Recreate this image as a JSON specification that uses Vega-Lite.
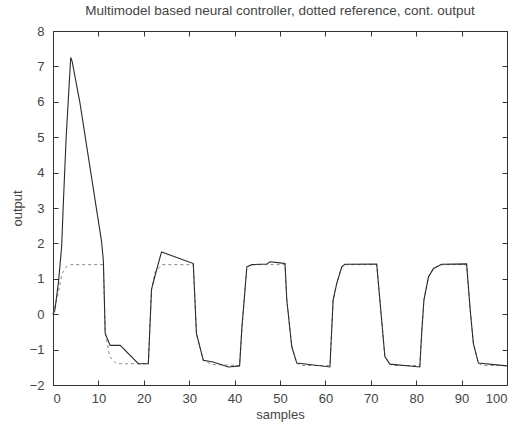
{
  "$schema": "https://vega.github.io/schema/vega-lite/v6.json",
  "width": 454,
  "height": 354,
  "autosize": {"type": "none"},
  "padding": {"left": 53, "top": 31, "right": 12, "bottom": 44},
  "background": "white",
  "title": {
    "text": "Multimodel based neural controller, dotted reference, cont. output",
    "font": "Liberation Sans",
    "fontSize": 13.5,
    "fontWeight": "normal",
    "color": "#444",
    "anchor": "middle",
    "offset": 8
  },
  "datasets": {
    "output": [
      {"k": 0, "y": 0.0}, {"k": 0.4, "y": 0.1}, {"k": 1.2, "y": 0.9}, {"k": 1.9, "y": 1.9},
      {"k": 2.3, "y": 3.2}, {"k": 2.9, "y": 5.0}, {"k": 3.9, "y": 7.25}, {"k": 4.2, "y": 7.15},
      {"k": 5.9, "y": 6.0}, {"k": 10.7, "y": 2.05}, {"k": 11.1, "y": 1.5}, {"k": 11.5, "y": -0.55},
      {"k": 12.6, "y": -0.88}, {"k": 14.8, "y": -0.88}, {"k": 18.8, "y": -1.4}, {"k": 21, "y": -1.4},
      {"k": 21.7, "y": 0.7}, {"k": 22.5, "y": 1.1}, {"k": 23.9, "y": 1.76}, {"k": 30.9, "y": 1.43},
      {"k": 31.6, "y": -0.55}, {"k": 33.1, "y": -1.3}, {"k": 35.3, "y": -1.35}, {"k": 38.6, "y": -1.49},
      {"k": 41.1, "y": -1.46}, {"k": 41.6, "y": -0.4}, {"k": 42.7, "y": 1.34}, {"k": 43.8, "y": 1.4},
      {"k": 47.1, "y": 1.42}, {"k": 47.8, "y": 1.48}, {"k": 50, "y": 1.45}, {"k": 51.1, "y": 1.43},
      {"k": 51.5, "y": 0.4}, {"k": 52.6, "y": -0.92}, {"k": 53.7, "y": -1.38}, {"k": 61, "y": -1.49},
      {"k": 61.7, "y": 0.4}, {"k": 62.5, "y": 0.87}, {"k": 63.6, "y": 1.34}, {"k": 64.3, "y": 1.41},
      {"k": 71.3, "y": 1.42}, {"k": 72, "y": 0.4}, {"k": 73.1, "y": -1.2}, {"k": 74.2, "y": -1.41},
      {"k": 80.8, "y": -1.49}, {"k": 81.2, "y": -0.55}, {"k": 81.7, "y": 0.4}, {"k": 82.7, "y": 1.05},
      {"k": 83.8, "y": 1.29}, {"k": 85.6, "y": 1.41}, {"k": 91.1, "y": 1.42}, {"k": 91.9, "y": 0.11},
      {"k": 92.6, "y": -0.83}, {"k": 93.7, "y": -1.38}, {"k": 100, "y": -1.46}
    ],
    "reference": [
      {"k": 0, "r": 0}, {"k": 1, "r": 0.5}, {"k": 2, "r": 1.15}, {"k": 3, "r": 1.35}, {"k": 4, "r": 1.4},
      {"k": 11.1, "r": 1.4}, {"k": 11.5, "r": -0.5}, {"k": 12.5, "r": -1.2}, {"k": 14, "r": -1.4},
      {"k": 21, "r": -1.4}, {"k": 21.7, "r": 0.7}, {"k": 22.5, "r": 1.2}, {"k": 24, "r": 1.4},
      {"k": 30.9, "r": 1.4}, {"k": 31.6, "r": -0.55}, {"k": 33.1, "r": -1.3}, {"k": 35, "r": -1.42},
      {"k": 41.1, "r": -1.45}, {"k": 41.6, "r": -0.4}, {"k": 42.7, "r": 1.34}, {"k": 43.8, "r": 1.4},
      {"k": 51.1, "r": 1.4}, {"k": 51.5, "r": 0.4}, {"k": 52.6, "r": -0.92}, {"k": 53.7, "r": -1.38},
      {"k": 54.5, "r": -1.45}, {"k": 61, "r": -1.45}, {"k": 61.7, "r": 0.4}, {"k": 62.5, "r": 0.87},
      {"k": 63.6, "r": 1.34}, {"k": 64.3, "r": 1.4}, {"k": 71.3, "r": 1.4}, {"k": 72, "r": 0.4},
      {"k": 73.1, "r": -1.2}, {"k": 74.2, "r": -1.41}, {"k": 75, "r": -1.45}, {"k": 80.8, "r": -1.45},
      {"k": 81.2, "r": -0.55}, {"k": 81.7, "r": 0.4}, {"k": 82.7, "r": 1.05}, {"k": 83.8, "r": 1.29},
      {"k": 85.6, "r": 1.4}, {"k": 91.1, "r": 1.4}, {"k": 91.9, "r": 0.11}, {"k": 92.6, "r": -0.83},
      {"k": 93.7, "r": -1.38}, {"k": 94.5, "r": -1.45}, {"k": 100, "r": -1.45}
    ]
  },
  "layer": [
    {
      "data": {"name": "reference"},
      "mark": {"type": "line", "color": "#8a8a8a", "strokeWidth": 1, "strokeDash": [3, 3]},
      "encoding": {
        "x": {
          "field": "k", "type": "quantitative",
          "scale": {"domain": [0, 100], "nice": false},
          "axis": {"orient": "top", "labels": false, "title": null, "grid": false, "domain": false,
                   "values": [0,10,20,30,40,50,60,70,80,90,100], "tickSize": -5, "tickColor": "#333"}
        },
        "y": {
          "field": "r", "type": "quantitative",
          "scale": {"domain": [-2, 8], "nice": false},
          "axis": {"orient": "right", "labels": false, "title": null, "grid": false, "domain": false,
                   "values": [-2,-1,0,1,2,3,4,5,6,7,8], "tickSize": -5, "tickColor": "#333"}
        }
      }
    },
    {
      "data": {"name": "output"},
      "mark": {"type": "line", "color": "#2a2a2a", "strokeWidth": 1.1},
      "encoding": {
        "x": {
          "field": "k", "type": "quantitative",
          "scale": {"domain": [0, 100], "nice": false},
          "axis": {"orient": "bottom", "title": "samples", "grid": false, "domain": false,
                   "values": [0,10,20,30,40,50,60,70,80,90,100], "tickSize": -5, "tickColor": "#333",
                   "labelPadding": 12, "titlePadding": 3}
        },
        "y": {
          "field": "y", "type": "quantitative",
          "scale": {"domain": [-2, 8], "nice": false},
          "axis": {"orient": "left", "title": "output", "grid": false, "domain": false,
                   "values": [-2,-1,0,1,2,3,4,5,6,7,8], "tickSize": -5, "tickColor": "#333",
                   "labelPadding": 14, "titlePadding": 5}
        }
      }
    }
  ],
  "resolve": {"axis": {"x": "independent", "y": "independent"}},
  "config": {
    "view": {"stroke": "#333", "strokeWidth": 1},
    "axis": {
      "labelFont": "Liberation Sans",
      "labelFontSize": 13,
      "labelColor": "#444",
      "titleFont": "Liberation Sans",
      "titleFontSize": 13,
      "titleFontWeight": "normal",
      "titleColor": "#444",
      "tickWidth": 1
    }
  }
}
